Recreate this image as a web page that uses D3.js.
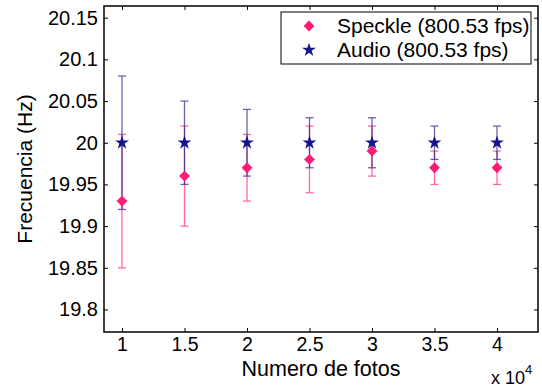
<!DOCTYPE html>
<html>
<head>
<meta charset="utf-8">
<script src="https://cdn.jsdelivr.net/npm/d3@7"></script>
<style>
  body { margin: 0; background: #fff; }
  text { font-family: "Liberation Sans", Arial, sans-serif; fill: #000; }
</style>
</head>
<body>
<script>
// data
var fotos = [1, 1.5, 2, 2.5, 3, 3.5, 4];   // x 10^4
var speckleMean = [19.93, 19.96, 19.97, 19.98, 19.99, 19.97, 19.97];
var speckleLow  = [19.85, 19.90, 19.93, 19.94, 19.96, 19.95, 19.95];
var speckleHigh = [20.01, 20.02, 20.01, 20.02, 20.02, 19.99, 19.99];
var audioMean = [20, 20, 20, 20, 20, 20, 20];
var audioLow  = [19.92, 19.95, 19.96, 19.97, 19.97, 19.98, 19.98];
var audioHigh = [20.08, 20.05, 20.04, 20.03, 20.03, 20.02, 20.02];
var xTicks = [1, 1.5, 2, 2.5, 3, 3.5, 4];
var yTicks = [19.8, 19.85, 19.9, 19.95, 20, 20.05, 20.1, 20.15];
var legendLabels = ["Speckle (800.53 fps)", "Audio (800.53 fps)"];

var width = 542, height = 387;
var plotL = 104, plotR = 538, plotT = 6, plotB = 332;
var pink = "#ff1a75", navy = "#14148c";

var svg = d3.select("body")
          .append("svg")
          .attr("width", width)
          .attr("height", height);

var x = d3.scaleLinear().domain([0.856, 4.328]).range([plotL, plotR]);
var y = d3.scaleLinear().domain([19.773, 20.164]).range([plotB, plotT]);

// ticks on all four sides, pointing inwards
svg.append("g")
   .attr("transform", "translate(0," + plotB + ")")
   .call(d3.axisBottom(x).tickValues(xTicks).tickSize(-4).tickPadding(5).tickFormat(d3.format("")))
   .call(function(g) {
     g.select(".domain").remove();
     g.selectAll("text").style("font-size", "19.5px");
   });
svg.append("g")
   .attr("transform", "translate(" + plotL + ",0)")
   .call(d3.axisLeft(y).tickValues(yTicks).tickSize(-4).tickPadding(6).tickFormat(d3.format("")))
   .call(function(g) {
     g.select(".domain").remove();
     g.selectAll("text").style("font-size", "20px");
   });
svg.append("g")
   .attr("transform", "translate(0," + plotT + ")")
   .call(d3.axisTop(x).tickValues(xTicks).tickSize(-4).tickFormat(""))
   .call(function(g) { g.select(".domain").remove(); });
svg.append("g")
   .attr("transform", "translate(" + plotR + ",0)")
   .call(d3.axisRight(y).tickValues(yTicks).tickSize(-4).tickFormat(""))
   .call(function(g) { g.select(".domain").remove(); });

svg.append("rect")
   .attr("x", plotL)
   .attr("y", plotT)
   .attr("width", plotR - plotL)
   .attr("height", plotB - plotT)
   .style("fill", "none")
   .style("stroke", "#000")
   .style("stroke-width", 1.5);

// error bars
function errorBars(low, high, color, cls) {
  var g = svg.append("g").attr("class", cls)
             .style("stroke", color)
             .style("stroke-width", 1.3)
             .style("opacity", 0.65);
  fotos.forEach(function(f, i) {
    var cx = x(f);
    g.append("line").attr("x1", cx).attr("x2", cx).attr("y1", y(low[i])).attr("y2", y(high[i]));
    g.append("line").attr("x1", cx - 4).attr("x2", cx + 4).attr("y1", y(low[i])).attr("y2", y(low[i]));
    g.append("line").attr("x1", cx - 4).attr("x2", cx + 4).attr("y1", y(high[i])).attr("y2", y(high[i]));
  });
}
errorBars(speckleLow, speckleHigh, pink, "speckle-err");
errorBars(audioLow, audioHigh, navy, "audio-err");

var diamond = d3.symbol().type(d3.symbolDiamond2).size(75);
var star = d3.symbol().type(d3.symbolStar).size(60);

svg.append("g").selectAll("path")
   .data(speckleMean)
   .enter()
   .append("path")
   .attr("d", diamond)
   .attr("transform", function(d, i) { return "translate(" + x(fotos[i]) + "," + y(d) + ")"; })
   .style("fill", pink);

svg.append("g").selectAll("path")
   .data(audioMean)
   .enter()
   .append("path")
   .attr("d", star)
   .attr("transform", function(d, i) { return "translate(" + x(fotos[i]) + "," + y(d) + ")"; })
   .style("fill", navy);

// legend
var legend = svg.append("g");
legend.append("rect")
      .attr("x", 281).attr("y", 12)
      .attr("width", 250).attr("height", 52)
      .style("fill", "#fff")
      .style("stroke", "#000")
      .style("stroke-width", 1);
legend.append("path").attr("d", diamond).attr("transform", "translate(309,26)").style("fill", pink);
legend.append("path").attr("d", star).attr("transform", "translate(309,50)").style("fill", navy);
legend.selectAll("text.lab")
      .data(legendLabels)
      .enter()
      .append("text")
      .attr("class", "lab")
      .attr("x", 337)
      .attr("y", function(d, i) { return 33 + i * 24; })
      .style("font-size", "21px")
      .text(function(d) { return d; });

// axis labels
svg.append("text")
   .attr("x", (plotL + plotR) / 2)
   .attr("y", 376)
   .attr("text-anchor", "middle")
   .style("font-size", "21.5px")
   .text("Numero de fotos");

svg.append("text")
   .attr("transform", "translate(32," + (plotT + plotB) / 2 + ") rotate(-90)")
   .attr("text-anchor", "middle")
   .style("font-size", "21px")
   .text("Frecuencia (Hz)");

var exp = svg.append("text")
   .attr("x", 491)
   .attr("y", 384)
   .style("font-size", "18px");
exp.append("tspan").text("x 10");
exp.append("tspan").attr("dy", -10).style("font-size", "13px").text("4");
</script>
</body>
</html>
